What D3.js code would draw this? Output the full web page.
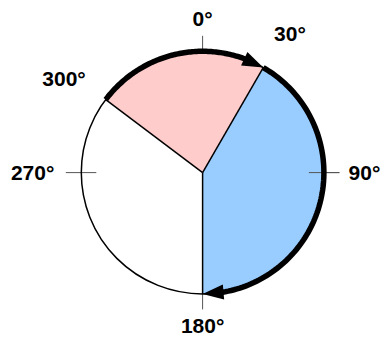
<!DOCTYPE html>
<html><head><meta charset="utf-8">
<script src="https://cdn.jsdelivr.net/npm/d3@7"></script>
<style>body{margin:0;background:#fff}svg{display:block}</style>
</head><body>
<svg id="c" width="382" height="337"></svg>
<script>
// Sectors (degrees, clockwise from top)
const sectorStarts = [307, 30, 180];
const sectorEnds   = [390, 180, 307];
const sectorFills  = ["#ffcccc", "#99ccff", "none"];
// Tick angles and labels
const tickAngles = [0, 30, 90, 180, 270, 300];
const tickLabels = ["0°", "30°", "90°", "180°", "270°", "300°"];
const tickShown  = [true, false, true, true, true, false];
// Arrows along the rim
const arrowStarts = [307, 30];
const arrowEnds   = [390, 180];

const svg = d3.select("#c");
const cx = 202.6, cy = 172.6, R = 121.3;
const g = svg.append("g").attr("transform", `translate(${cx},${cy})`);
const rad = d3.scaleLinear().domain([0, 360]).range([0, 2 * Math.PI]);
const px = (r, a) => [r * Math.sin(rad(a)), -r * Math.cos(rad(a))];

// ticks (drawn under the sectors)
tickAngles.forEach((a, i) => {
  if (!tickShown[i]) return;
  const p1 = px(R - 15, a), p2 = px(R + 15.5, a);
  g.append("line")
    .attr("x1", p1[0]).attr("y1", p1[1]).attr("x2", p2[0]).attr("y2", p2[1])
    .attr("stroke", "#555").attr("stroke-width", 1);
});

const arc = d3.arc().innerRadius(0).outerRadius(R);
sectorStarts.forEach((s, i) => {
  if (sectorFills[i] === "none") return;
  g.append("path")
    .attr("d", arc({startAngle: rad(s), endAngle: rad(sectorEnds[i])}))
    .attr("fill", sectorFills[i]).attr("stroke", "none");
});
// inner portion of the tick over the blue sector (visible in reference)
tickAngles.forEach((a, i) => {
  if (a !== 90) return;
  const p1 = px(R - 15, a), p2 = px(R + 15.5, a);
  g.append("line")
    .attr("x1", p1[0]).attr("y1", p1[1]).attr("x2", p2[0]).attr("y2", p2[1])
    .attr("stroke", "#555").attr("stroke-width", 1);
});
// outline circle
g.append("circle").attr("r", R).attr("fill", "none").attr("stroke", "#000").attr("stroke-width", 1.5);
// radii
sectorStarts.forEach(s => {
  const p = px(R, s);
  g.append("line").attr("x1", 0).attr("y1", 0).attr("x2", p[0]).attr("y2", p[1])
    .attr("stroke", "#000").attr("stroke-width", 1.5);
});

// arrows
const headLen = 21, headW = 7.5;
arrowStarts.forEach((s, i) => {
  const e = arrowEnds[i];
  const backDeg = (headLen / R) * 180 / Math.PI;
  const pts = d3.range(0, 101).map(k => px(R, s + (e - backDeg * 0.8 - s) * k / 100));
  g.append("path").attr("d", d3.line()(pts))
    .attr("fill", "none").attr("stroke", "#000").attr("stroke-width", 5.5);
  const tip = px(R, e), base = px(R, e - backDeg);
  const dx = tip[0] - base[0], dy = tip[1] - base[1];
  const L = Math.hypot(dx, dy);
  const nx = -dy / L, ny = dx / L;
  g.append("path")
    .attr("d", d3.line()([tip, [base[0] + nx * headW, base[1] + ny * headW], [base[0] - nx * headW, base[1] - ny * headW]]) + "Z")
    .attr("fill", "#000");
});

// labels: centre positions (angle offset, radius) for layout
const labelLayout = [[0, 154.6], [2.1, 164.3], [0, 161.9], [0, 152.4], [0, 170], [4.3, 167.8]];
const fs = 21;
tickAngles.forEach((a, i) => {
  const p = px(labelLayout[i][1], a + labelLayout[i][0]);
  g.append("text").text(tickLabels[i])
    .attr("font-family", "Liberation Sans, Arial, sans-serif")
    .attr("font-weight", "bold").attr("font-size", fs).attr("fill", "#000")
    .attr("text-anchor", "middle")
    .attr("x", p[0]).attr("y", p[1] + fs * 0.36);
});
</script>
</body></html>
